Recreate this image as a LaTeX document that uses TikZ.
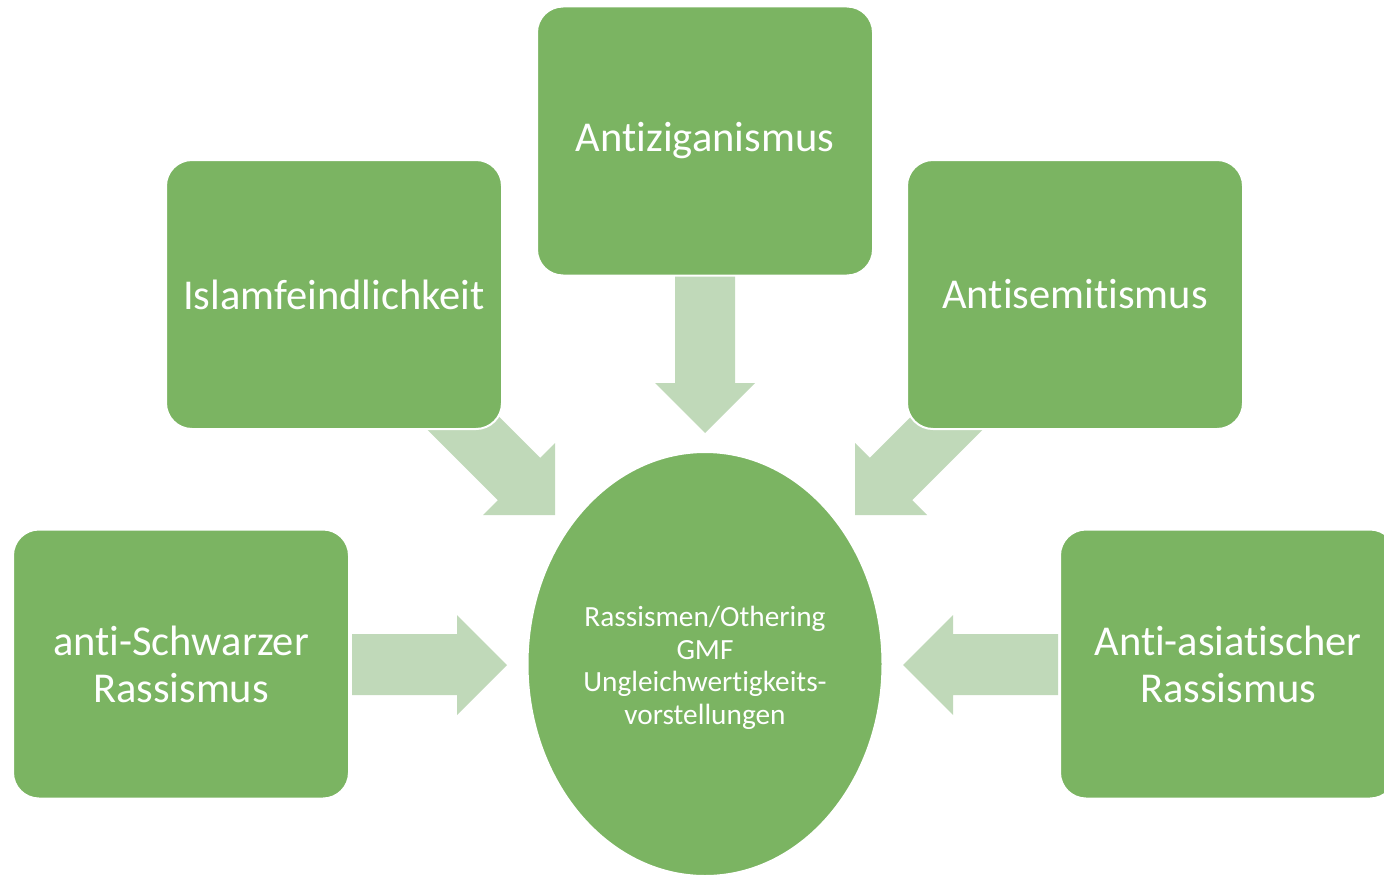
\documentclass[tikz,border=0pt]{standalone}
\usepackage{fontspec}
\setmainfont{Carlito}[Ligatures={NoCommon,NoRequired,NoContextual}]
\usetikzlibrary{shapes.geometric}
\definecolor{boxgreen}{RGB}{123,180,98}
\definecolor{arrowgreen}{RGB}{192,217,185}
\tikzset{
  catbox/.style={rectangle, rounded corners=26pt, fill=boxgreen, draw=white, line width=2pt,
    minimum width=336pt, minimum height=269pt, text=white, align=center,
    font=\fontsize{42.5}{47}\selectfont, inner sep=0pt},
  centreoval/.style={ellipse, fill=boxgreen, draw=white, line width=2pt,
    minimum width=355pt, minimum height=424pt, inner sep=0pt},
  centretext/.style={text=white, align=center,
    font=\fontsize{29.3}{32.5}\selectfont, inner sep=0pt},
  blockarrow/.style={fill=arrowgreen, draw=none}
}
\begin{document}
\begin{tikzpicture}[x=1pt,y=-1pt]
\useasboundingbox (0,0) rectangle (1384,875);
\clip (0,0) rectangle (1384,875);
% block arrows (drawn first, boxes overlap their tails)
\fill[blockarrow] (352,634) -- (457,634) -- (457,615) -- (507,665) -- (457,715) -- (457,695) -- (352,695) -- cycle;
\fill[blockarrow] (1058,634) -- (953,634) -- (953,615) -- (903,665) -- (953,715) -- (953,695) -- (1058,695) -- cycle;
\fill[blockarrow] (675,270) -- (735,270) -- (735,383) -- (755,383) -- (705,433) -- (655,383) -- (675,383) -- cycle;
\fill[blockarrow] (440.2,357.8) -- (540.2,457.8) -- (555,443) -- (555,515) -- (483,515) -- (497.8,500.2) -- (397.8,400.2) -- cycle;
\fill[blockarrow] (969.8,357.8) -- (869.8,457.8) -- (855,443) -- (855,515) -- (927,515) -- (912.2,500.2) -- (1012.2,400.2) -- cycle;
% boxes
\node[catbox] (isl) at (334,294.5) {Islamfeindlichkeit};
\node[catbox] (zig) at (705,141) {Antiziganismus};
\node[catbox] (sem) at (1075,294.5) {Antisemitismus};
\node[catbox] (schw) at (181,664) {anti-Schwarzer\\Rassismus};
\node[catbox] (asia) at (1228,664) {Anti-asiatischer\\Rassismus};
% centre
\node[centreoval] (gmf) at (705,664) {};
\node[centretext] (gmftext) at ([yshift=-4pt]gmf.center) {Rassismen/Othering\\GMF\\Ungleichwertigkeits-\\vorstellungen};
\end{tikzpicture}
\end{document}
